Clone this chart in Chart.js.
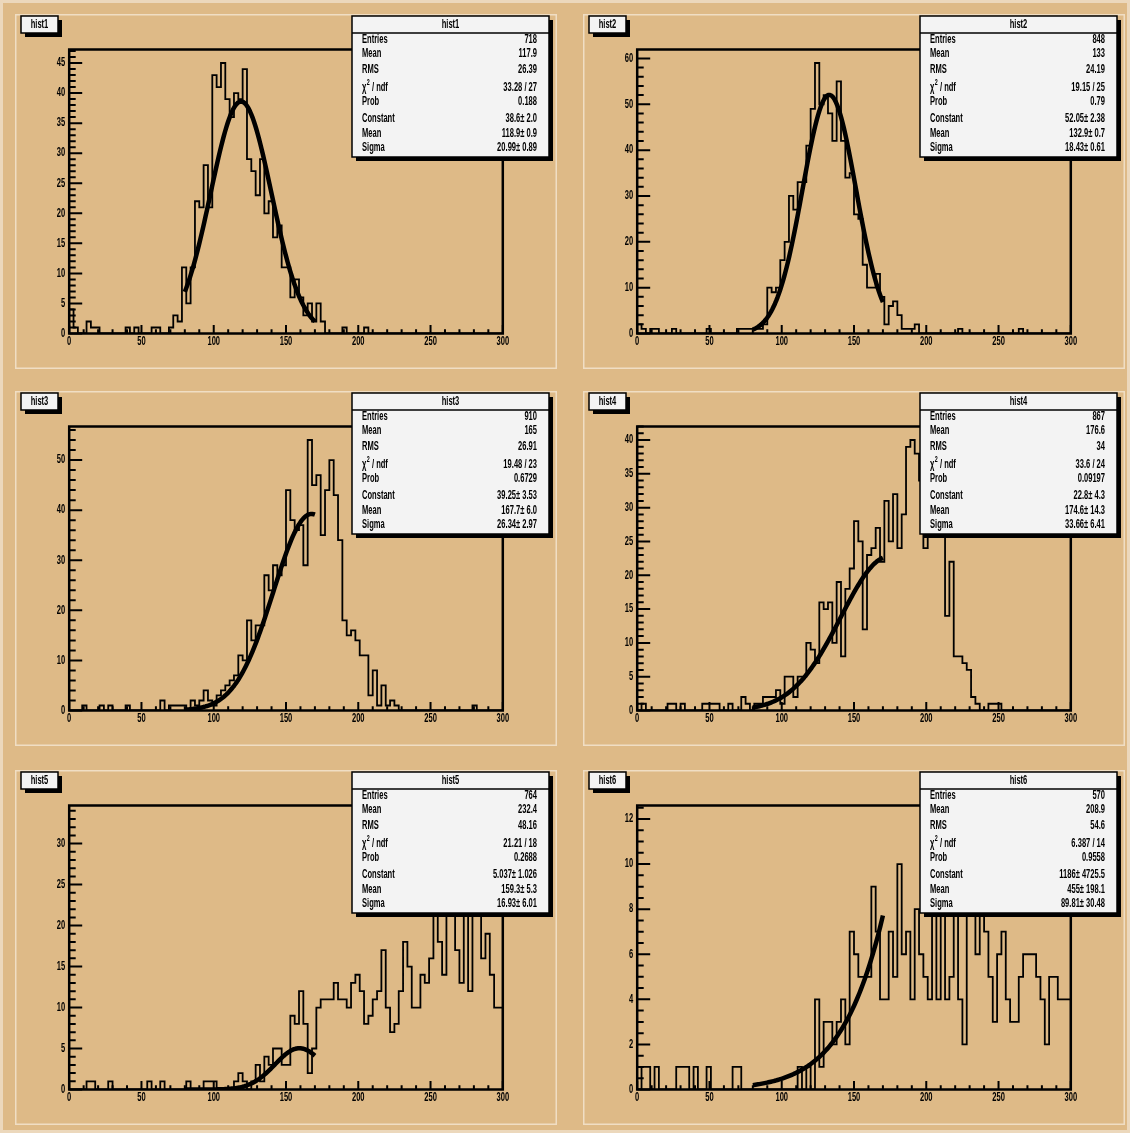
<!DOCTYPE html>
<html>
<head>
<meta charset="utf-8">
<script src="https://cdn.jsdelivr.net/npm/chart.js@4.4.1/dist/chart.umd.min.js"></script>
<style>
  html, body { margin: 0; padding: 0; background: rgb(222,186,135); }
  #c1 {
    position: relative;
    width: 1130px;
    height: 1133px;
    background: rgb(222,186,135);
    box-shadow: inset 0 0 0 3px rgb(236,216,188);
  }
  .pad { position: absolute; }
</style>
</head>
<body>
<div id="c1"></div>
<script>
'use strict';

// bin contents, 100 bins of width 3 from 0 to 300
const hist1 = [
  4, 4, 1, 0, 0, 2, 1, 1, 0, 0,
  0, 0, 0, 0, 1, 0, 1, 0, 0, 0,
  1, 1, 0, 0, 1, 3, 2, 11, 5, 11,
  22, 21, 28, 21, 43, 41, 45, 39, 36, 40,
  39, 44, 29, 27, 23, 29, 20, 22, 16, 18,
  11, 11, 6, 9, 6, 3, 5, 2, 5, 2,
  0, 0, 0, 0, 1, 0, 0, 0, 0, 1,
  0, 0, 0, 0, 0, 0, 0, 0, 0, 0,
  0, 0, 0, 0, 0, 0, 0, 0, 0, 0,
  0, 0, 0, 0, 0, 0, 0, 0, 0, 0,
];
const hist2 = [
  1, 2, 1, 0, 1, 1, 0, 0, 0, 1,
  0, 0, 0, 0, 0, 0, 0, 1, 0, 0,
  0, 0, 0, 0, 1, 1, 1, 1, 1, 1,
  2, 10, 9, 10, 16, 20, 30, 27, 33, 33,
  41, 49, 59, 50, 52, 48, 42, 55, 42, 34,
  35, 26, 25, 15, 10, 10, 13, 8, 2, 6,
  7, 4, 1, 1, 1, 2, 0, 0, 0, 0,
  0, 0, 0, 0, 0, 1, 0, 0, 0, 0,
  0, 0, 0, 0, 0, 0, 0, 0, 0, 1,
  0, 0, 0, 0, 0, 0, 0, 0, 0, 0,
];
const hist3 = [
  0, 0, 0, 0, 1, 0, 0, 0, 1, 0,
  1, 0, 0, 0, 1, 0, 0, 0, 0, 0,
  0, 0, 2, 0, 1, 1, 1, 1, 0, 2,
  1, 2, 4, 2, 1, 3, 4, 5, 6, 7,
  11, 10, 18, 14, 17, 17, 27, 24, 29, 27,
  29, 44, 38, 36, 37, 29, 54, 45, 47, 35,
  44, 50, 43, 34, 18, 15, 16, 14, 11, 11,
  3, 8, 1, 5, 1, 2, 1, 0, 0, 0,
  0, 0, 0, 0, 0, 0, 0, 0, 0, 0,
  0, 0, 0, 0, 1, 0, 0, 0, 0, 0,
];
const hist4 = [
  0, 0, 1, 0, 0, 0, 0, 0, 1, 1,
  0, 1, 0, 0, 0, 0, 1, 1, 1, 1,
  0, 0, 1, 0, 0, 2, 1, 0, 1, 1,
  2, 2, 2, 3, 1, 5, 5, 2, 5, 5,
  10, 9, 7, 16, 15, 16, 10, 19, 8, 18,
  21, 28, 25, 12, 23, 24, 27, 22, 31, 25,
  32, 24, 29, 39, 40, 38, 34, 24, 31, 35,
  28, 30, 14, 22, 8, 8, 7, 6, 2, 1,
  0, 0, 1, 1, 1, 0, 0, 0, 0, 0,
  0, 0, 0, 0, 0, 0, 0, 0, 0, 0,
];
const hist5 = [
  0, 0, 0, 0, 0, 1, 1, 0, 0, 0,
  1, 0, 0, 0, 0, 0, 0, 0, 0, 1,
  0, 0, 1, 0, 0, 0, 0, 0, 1, 0,
  0, 0, 1, 1, 1, 0, 0, 0, 0, 1,
  2, 1, 0, 1, 3, 1, 4, 3, 5, 5,
  3, 3, 9, 8, 12, 8, 2, 5, 10, 11,
  11, 11, 13, 11, 11, 10, 13, 14, 12, 8,
  9, 11, 12, 17, 10, 7, 8, 12, 18, 15,
  10, 10, 14, 13, 16, 24, 18, 14, 27, 23,
  17, 13, 33, 12, 26, 22, 16, 19, 14, 10,
];
const hist6 = [
  0, 0, 1, 1, 0, 1, 0, 0, 0, 0,
  1, 1, 1, 0, 1, 0, 0, 1, 0, 0,
  0, 0, 0, 1, 1, 0, 0, 0, 0, 0,
  0, 0, 0, 0, 0, 0, 0, 0, 1, 0,
  1, 0, 4, 1, 3, 3, 2, 3, 4, 2,
  7, 6, 5, 5, 5, 9, 7, 4, 4, 7,
  5, 10, 6, 7, 4, 8, 6, 5, 4, 9,
  4, 12, 4, 5, 8, 4, 2, 9, 11, 6,
  9, 7, 5, 3, 6, 7, 4, 3, 3, 5,
  6, 6, 6, 5, 4, 2, 5, 5, 4, 4,
];

const names = ['hist1', 'hist2', 'hist3', 'hist4', 'hist5', 'hist6'];
const bins = [hist1, hist2, hist3, hist4, hist5, hist6];

// gaus fit results: Constant, Mean, Sigma
const fit1 = [38.6, 118.9, 20.99];
const fit2 = [52.05, 132.9, 18.43];
const fit3 = [39.25, 167.7, 26.34];
const fit4 = [22.8, 174.6, 33.66];
const fit5 = [5.037, 159.3, 16.93];
const fit6 = [1186, 455, 89.81];
const fits = [fit1, fit2, fit3, fit4, fit5, fit6];
const fitRange = [80, 170];

// stats box text
const statLabels = ['Entries', 'Mean', 'RMS', 'chi2', 'Prob', 'Constant', 'Mean', 'Sigma'];
const stats1 = ['718', '117.9', '26.39', '33.28 / 27', '0.188', '38.6\u00b1 2.0', '118.9\u00b1 0.9', '20.99\u00b1 0.89'];
const stats2 = ['848', '133', '24.19', '19.15 / 25', '0.79', '52.05\u00b1 2.38', '132.9\u00b1 0.7', '18.43\u00b1 0.61'];
const stats3 = ['910', '165', '26.91', '19.48 / 23', '0.6729', '39.25\u00b1 3.53', '167.7\u00b1 6.0', '26.34\u00b1 2.97'];
const stats4 = ['867', '176.6', '34', '33.6 / 24', '0.09197', '22.8\u00b1 4.3', '174.6\u00b1 14.3', '33.66\u00b1 6.41'];
const stats5 = ['764', '232.4', '48.16', '21.21 / 18', '0.2688', '5.037\u00b1 1.026', '159.3\u00b1 5.3', '16.93\u00b1 6.01'];
const stats6 = ['570', '208.9', '54.6', '6.387 / 14', '0.9558', '1186\u00b1 4725.5', '455\u00b1 198.1', '89.81\u00b1 30.48'];
const stats = [stats1, stats2, stats3, stats4, stats5, stats6];

// axis ranges and tick labels
const xTicks = [0, 50, 100, 150, 200, 250, 300];
const yMax = [47.25, 61.95, 56.7, 42, 34.65, 12.6];
const yTicks1 = [0, 5, 10, 15, 20, 25, 30, 35, 40, 45];
const yTicks2 = [0, 10, 20, 30, 40, 50, 60];
const yTicks3 = [0, 10, 20, 30, 40, 50];
const yTicks4 = [0, 5, 10, 15, 20, 25, 30, 35, 40];
const yTicks5 = [0, 5, 10, 15, 20, 25, 30];
const yTicks6 = [0, 2, 4, 6, 8, 10, 12];
const yTicks = [yTicks1, yTicks2, yTicks3, yTicks4, yTicks5, yTicks6];
const yMinor = [1, 2, 2, 1, 1, 0.5];

// look
const BEIGE = 'rgb(222,186,135)';
const LIGHT = 'rgb(240,222,196)';
const BOX = 'rgb(243,243,243)';
const FONT = 'bold 12px "Liberation Sans", Arial, sans-serif';
const SMALL = 'bold 8.5px "Liberation Sans", Arial, sans-serif';
const SQUEEZE = 0.63;

const padW = 542;
const padH = 355;
const padLeft = [15, 583];
const padTop = [14, 391, 770];

const stage = document.getElementById('c1');

const squeezed = function (ctx, s, x, y, align) {
  ctx.save();
  ctx.translate(x, y);
  ctx.scale(SQUEEZE, 1);
  ctx.textAlign = align;
  ctx.textBaseline = 'middle';
  ctx.fillText(s, 0, 0);
  ctx.restore();
};

const widthOf = (ctx, s) => ctx.measureText(s).width * SQUEEZE;

// light box with a black drop shadow
const shadowBox = function (ctx, x, y, w, h) {
  ctx.fillStyle = '#000';
  ctx.fillRect(x + 4, y + 4, w, h);
  ctx.fillStyle = BOX;
  ctx.fillRect(x, y, w, h);
  ctx.strokeStyle = '#000';
  ctx.lineWidth = 1.5;
  ctx.strokeRect(x, y, w, h);
};

const drawChi = function (ctx, x, y) {
  ctx.font = FONT;
  squeezed(ctx, '\u03c7', x, y, 'left');
  let cx = x + widthOf(ctx, '\u03c7') + 0.5;
  ctx.font = SMALL;
  squeezed(ctx, '2', cx, y - 5, 'left');
  cx += widthOf(ctx, '2');
  ctx.font = FONT;
  squeezed(ctx, ' / ndf', cx, y, 'left');
};

const padPlugin = {
  id: 'padPlugin',
  beforeDraw(chart) {
    const { ctx, width, height } = chart;
    ctx.save();
    ctx.fillStyle = BEIGE;
    ctx.fillRect(0, 0, width, height);
    ctx.strokeStyle = LIGHT;
    ctx.lineWidth = 1.5;
    ctx.strokeRect(0.75, 0.75, width - 1.5, height - 1.5);
    ctx.restore();
  },
  afterDraw(chart, args, opts) {
    const { ctx, chartArea: a } = chart;
    const xs = chart.scales.x;
    const ys = chart.scales.y;
    const k = opts.index;
    ctx.save();
    ctx.strokeStyle = '#000';
    ctx.fillStyle = '#000';

    // ticks, pointing into the frame
    ctx.lineWidth = 2;
    ctx.beginPath();
    for (let v = 0; v <= 300; v += 10) {
      const px = xs.getPixelForValue(v);
      const len = v % 50 === 0 ? 8.5 : 4.3;
      ctx.moveTo(px, a.bottom);
      ctx.lineTo(px, a.bottom - len);
    }
    const step = yMinor[k];
    const major = yTicks[k][1];
    for (let n = 0; n * step <= yMax[k]; n++) {
      const v = n * step;
      const py = ys.getPixelForValue(v);
      const isMajor = Math.abs(v / major - Math.round(v / major)) < 1e-6;
      ctx.moveTo(a.left, py);
      ctx.lineTo(a.left + (isMajor ? 13 : 6.5), py);
    }
    ctx.stroke();

    // frame
    ctx.lineWidth = 2.5;
    ctx.strokeRect(a.left, a.top, a.right - a.left, a.bottom - a.top);

    // tick labels
    ctx.font = FONT;
    xTicks.forEach(v => squeezed(ctx, String(v), xs.getPixelForValue(v), a.bottom + 8, 'center'));
    yTicks[k].forEach(v => squeezed(ctx, String(v), a.left - 4, ys.getPixelForValue(v), 'right'));

    // title box
    shadowBox(ctx, 6, 2, 37, 17);
    ctx.fillStyle = '#000';
    ctx.font = FONT;
    squeezed(ctx, names[k], 24.5, 11, 'center');

    // stats box
    const bx = 337;
    const by = 2;
    const bw = 197;
    const bh = 141;
    shadowBox(ctx, bx, by, bw, bh);
    ctx.lineWidth = 1.5;
    ctx.beginPath();
    ctx.moveTo(bx, by + 17);
    ctx.lineTo(bx + bw, by + 17);
    ctx.stroke();
    ctx.fillStyle = '#000';
    squeezed(ctx, names[k], bx + bw / 2, by + 9, 'center');
    const rowY = [25.3, 39.3, 56, 73.3, 87.7, 104.3, 119.3, 133.3];
    statLabels.forEach((lab, i) => {
      if (lab === 'chi2') drawChi(ctx, bx + 10, rowY[i]);
      else {
        ctx.font = FONT;
        squeezed(ctx, lab, bx + 10, rowY[i], 'left');
      }
      ctx.font = FONT;
      squeezed(ctx, stats[k][i], bx + 185, rowY[i], 'right');
    });
    ctx.restore();
  },
};

// outline of the histogram as bin edges
const histPoints = function (h) {
  const pts = [{ x: 0, y: 0 }];
  h.forEach((v, i) => pts.push({ x: i * 3, y: v }));
  pts.push({ x: 300, y: h[h.length - 1] });
  pts.push({ x: 300, y: 0 });
  return pts;
};

// gaus evaluated over the fit range
const fitPoints = function (p) {
  const pts = [];
  for (let i = 0; i <= 100; i++) {
    const x = fitRange[0] + ((fitRange[1] - fitRange[0]) * i) / 100;
    pts.push({ x, y: p[0] * Math.exp(-0.5 * ((x - p[1]) / p[2]) ** 2) });
  }
  return pts;
};

names.forEach((name, k) => {
  const canvas = document.createElement('canvas');
  canvas.className = 'pad';
  canvas.width = padW;
  canvas.height = padH;
  canvas.style.left = padLeft[k % 2] + 'px';
  canvas.style.top = padTop[Math.floor(k / 2)] + 'px';
  stage.appendChild(canvas);

  new Chart(canvas.getContext('2d'), {
    type: 'line',
    data: {
      datasets: [
        {
          label: name,
          data: histPoints(bins[k]),
          stepped: 'after',
          borderColor: '#000',
          borderWidth: 1.8,
          pointRadius: 0,
          fill: false,
        },
        {
          label: 'gaus',
          data: fitPoints(fits[k]),
          borderColor: '#000',
          borderWidth: 4.5,
          borderCapStyle: 'butt',
          borderJoinStyle: 'round',
          pointRadius: 0,
          fill: false,
        },
      ],
    },
    options: {
      responsive: false,
      animation: false,
      devicePixelRatio: 1,
      events: [],
      layout: {
        padding: { left: 54.2, right: 54.2, top: 35.5, bottom: 35.5 },
      },
      plugins: {
        legend: { display: false },
        tooltip: { enabled: false },
        padPlugin: { index: k },
      },
      scales: {
        x: { type: 'linear', min: 0, max: 300, display: false },
        y: { type: 'linear', min: 0, max: yMax[k], display: false },
      },
    },
    plugins: [padPlugin],
  });
});
</script>
</body>
</html>
